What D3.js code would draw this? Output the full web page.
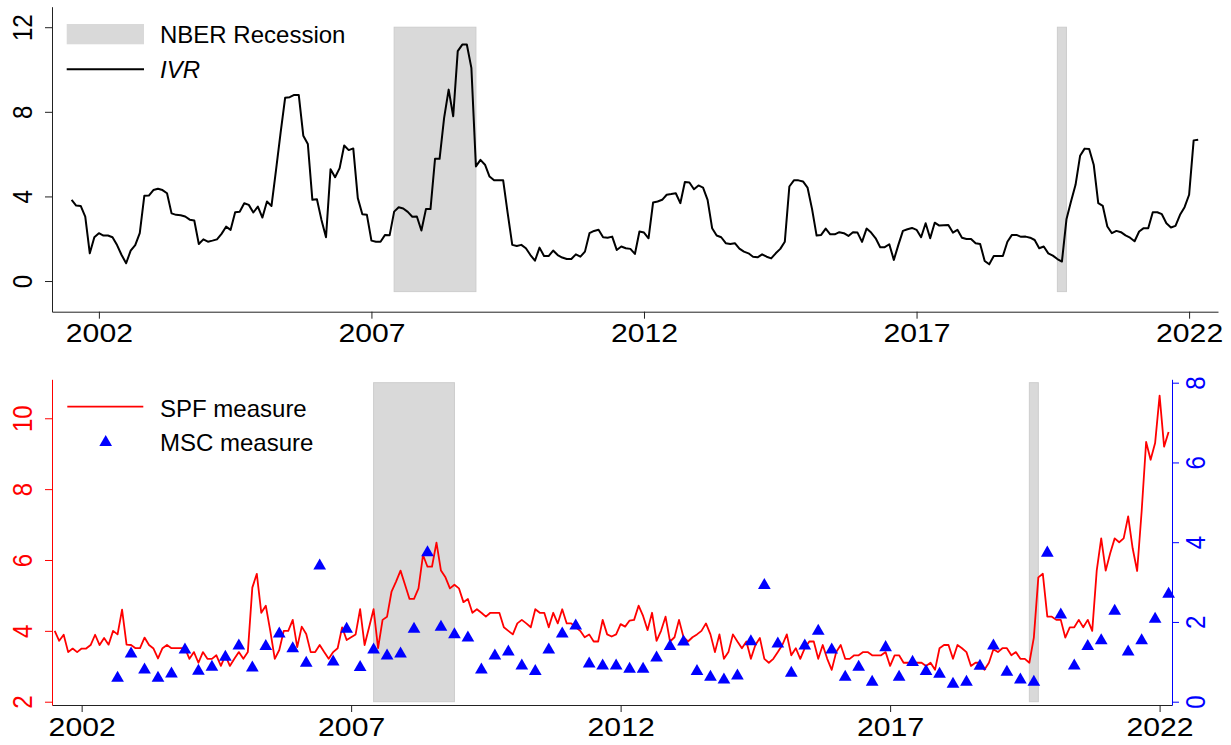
<!DOCTYPE html>
<html>
<head>
<meta charset="utf-8">
<script src="https://cdn.jsdelivr.net/npm/d3@7"></script>
<style>
body { margin: 0; background: #fff; }
svg { font-family: "Liberation Sans", Arial, Helvetica, sans-serif; }
</style>
</head>
<body>
<svg id="chart" width="1231" height="745"></svg>
<script>
// monthly series, Jan 2002 .. Sep 2022
var startYear = 2002;
var ivr = [3.84,3.57,3.55,3.05,1.31,2.07,2.26,2.15,2.15,2.07,
  1.70,1.23,0.84,1.44,1.70,2.26,4.03,4.04,4.30,4.36,
  4.30,4.15,3.20,3.13,3.11,3.05,2.90,2.86,1.75,1.97,
  1.86,1.91,1.97,2.23,2.57,2.42,3.25,3.28,3.68,3.60,
  3.24,3.52,3.00,3.76,3.55,5.26,7.00,8.66,8.69,8.80,
  8.80,6.87,6.48,3.84,3.87,2.89,2.07,5.29,4.91,5.34,
  6.41,6.19,6.27,3.92,3.16,3.13,1.91,1.86,1.86,2.18,
  2.16,3.28,3.49,3.43,3.27,3.04,3.05,2.39,3.40,3.40,
  5.78,5.78,7.71,9.05,7.79,10.87,11.18,11.18,10.08,5.42,
  5.73,5.50,4.94,4.76,4.76,4.76,3.20,1.71,1.66,1.71,
  1.55,1.23,0.96,1.58,1.18,1.18,1.44,1.23,1.11,1.04,
  1.04,1.26,1.15,1.39,2.26,2.37,2.42,2.07,2.05,2.10,
  1.47,1.63,1.55,1.52,1.28,2.34,2.29,2.02,3.71,3.76,
  3.84,4.08,4.11,4.15,3.68,4.68,4.66,4.34,4.52,4.42,
  3.84,2.50,2.15,2.07,1.79,1.75,1.79,1.53,1.39,1.31,
  1.15,1.12,1.26,1.15,1.07,1.31,1.52,1.86,4.47,4.76,
  4.76,4.71,4.42,3.40,2.15,2.18,2.48,2.21,2.21,2.31,
  2.26,2.13,2.31,2.29,1.85,2.48,2.29,2.02,1.60,1.60,
  1.74,1.00,1.71,2.37,2.45,2.51,2.42,2.07,2.73,2.02,
  2.76,2.62,2.64,2.65,2.29,2.42,2.05,1.99,1.99,1.79,
  1.75,0.95,0.79,1.18,1.18,1.18,1.86,2.18,2.18,2.09,
  2.10,2.05,1.94,1.55,1.63,1.31,1.20,1.04,0.92,2.92,
  3.76,4.55,5.92,6.26,6.24,5.50,3.68,3.55,2.58,2.26,
  2.37,2.31,2.16,2.05,1.88,2.34,2.50,2.50,3.25,3.25,
  3.16,2.73,2.53,2.61,3.13,3.49,4.08,6.65,6.68];

var spf = [4.00,3.72,3.89,3.40,3.50,3.40,3.50,3.50,3.60,3.89,
  3.60,3.80,3.61,4.00,3.90,4.60,3.61,3.60,3.51,3.51,
  3.81,3.60,3.50,3.22,3.51,3.60,3.51,3.51,3.51,3.51,
  3.21,3.40,3.10,3.40,3.21,3.21,3.31,3.01,3.31,3.01,
  3.21,3.40,3.21,3.40,5.22,5.61,4.51,4.71,4.00,3.21,
  3.46,4.00,4.00,4.31,3.54,4.12,3.91,3.40,3.40,3.60,
  3.40,3.21,3.40,3.51,4.10,3.74,3.82,3.90,4.61,3.60,
  4.10,4.61,3.51,4.31,4.40,5.11,5.39,5.70,5.30,4.90,
  4.90,5.20,6.14,5.81,5.81,6.49,5.70,5.51,5.20,5.30,
  5.20,4.81,4.90,4.51,4.61,4.51,4.40,4.51,4.51,4.51,
  4.10,4.00,3.90,4.21,4.31,4.21,4.10,4.61,4.51,4.51,
  4.10,4.51,4.21,4.61,4.21,4.21,4.10,4.00,3.82,3.90,
  3.70,3.70,4.31,3.90,3.84,3.90,4.19,4.12,4.29,4.31,
  4.71,4.42,4.02,4.51,3.72,4.00,4.40,3.70,3.82,4.31,
  3.82,3.70,3.82,3.90,4.00,4.21,3.90,3.40,3.90,3.21,
  3.40,3.90,3.70,3.51,3.70,3.21,3.60,3.80,3.21,3.10,
  3.21,3.40,3.60,3.90,3.31,3.51,3.21,3.51,3.70,3.70,
  3.21,3.60,3.21,2.90,3.40,3.60,3.21,3.21,3.31,3.31,
  3.40,3.40,3.31,3.31,3.31,3.40,3.01,3.31,3.31,3.10,
  3.10,3.10,3.10,3.10,3.01,3.10,2.90,3.51,3.60,3.60,
  3.21,3.60,3.51,3.40,3.01,3.10,3.10,2.90,3.10,3.48,
  3.40,3.51,3.51,3.31,3.40,3.21,3.21,3.10,3.81,5.51,
  5.61,4.40,4.40,4.31,4.31,3.81,4.10,4.10,4.31,4.10,
  4.31,4.00,5.70,6.61,5.70,6.19,6.61,6.50,6.61,7.23,
  6.33,5.69,7.37,9.33,8.83,9.30,10.64,9.20,9.61];

// quarterly, Mar 2003 .. Sep 2022
var mscStart = 2003 + 2 / 12;
var msc = [0.59,1.20,0.80,0.59,0.70,1.30,0.77,0.87,1.12,1.40,
  0.85,1.39,1.70,1.33,0.97,3.41,1.00,1.82,0.86,1.30,
  1.15,1.20,1.82,3.74,1.87,1.68,1.60,0.80,1.15,1.25,
  0.90,0.76,1.30,1.70,1.90,0.95,0.90,0.90,0.82,0.82,
  1.10,1.39,1.50,0.76,0.62,0.55,0.65,1.51,2.92,1.45,
  0.72,1.40,1.77,1.30,0.62,0.87,0.49,1.36,0.62,0.99,
  0.76,0.69,0.44,0.49,0.89,1.40,0.74,0.55,0.49,3.73,
  2.18,0.90,1.39,1.53,2.27,1.25,1.53,2.07,2.70];

// NBER recessions (Dec 2007 - Jun 2009, Feb 2020 - Apr 2020)
var recessions = [[2007 + 11 / 12, 2009 + 5 / 12], [2020 + 1 / 12, 2020 + 3 / 12]];
var tickYears = [2002, 2007, 2012, 2017, 2022];
var ivrTicks = [0, 4, 8, 12];
var spfTicks = [2, 4, 6, 8, 10];
var mscTicks = [0, 2, 4, 6, 8];

var svg = d3.select("#chart");
var legendFont = "24px";
var stretch = 1.16; // tick labels in the original are a bit wide

function monthT(d, i) { return startYear + i / 12; }

// x tick labels, widened a little
function yearLabels(g, offset) {
  g.selectAll(".tick text")
    .attr("y", offset)
    .attr("dy", 0)
    .attr("fill", "#000")
    .attr("transform", "scale(" + stretch + ",1)")
    .style("font-size", "26px");
}

// rotate the y tick labels so they read bottom to top
function verticalLabels(g, offset, colour) {
  g.selectAll(".tick text")
    .attr("transform", "rotate(-90) scale(1," + stretch + ")")
    .attr("x", 0)
    .attr("y", offset / stretch)
    .attr("dy", 0)
    .attr("text-anchor", "middle")
    .attr("fill", colour)
    .style("font-size", "24px");
}

// ---------- upper panel: IVR ----------
var xTop = d3.scaleLinear().domain([2001.64, 2023.03]).range([52, 1218]);
var yTop = d3.scaleLinear().domain([-1.45, 12.97]).range([311.7, 6.7]);

var upper = svg.append("g");

upper.selectAll(".rec")
  .data(recessions)
  .enter().append("rect")
    .attr("x", function(d) { return xTop(d[0]); })
    .attr("width", function(d) { return xTop(d[1]) - xTop(d[0]); })
    .attr("y", yTop(12))
    .attr("height", yTop(-0.5) - yTop(12))
    .attr("fill", "#d9d9d9")
    .attr("stroke", "#cdcdcd");

upper.append("path")
  .datum(ivr)
  .attr("fill", "none")
  .attr("stroke", "#000")
  .attr("stroke-width", 2)
  .attr("stroke-linejoin", "round")
  .attr("d", d3.line().x(function(d, i) { return xTop(monthT(d, i)); }).y(function(d) { return yTop(d); }));

var gx1 = upper.append("g")
  .attr("transform", "translate(0," + yTop.range()[0] + ")")
  .attr("color", "#222")
  .call(d3.axisBottom(xTop)
    .tickValues(tickYears.map(function(y) { return y + 0.5; }))
    .tickFormat(function(d) { return Math.floor(d); })
    .tickSize(7).tickSizeOuter(0));
yearLabels(gx1, 30);

var gy1 = upper.append("g")
  .attr("transform", "translate(52,0)")
  .attr("color", "#222")
  .call(d3.axisLeft(yTop).tickValues(ivrTicks).tickSize(7).tickSizeOuter(0));
verticalLabels(gy1, -20, "#000");

// legend
var leg1 = upper.append("g").style("font-size", legendFont);
leg1.append("rect").attr("x", 66.7).attr("y", 24).attr("width", 77.3).attr("height", 20.3).attr("fill", "#d9d9d9");
leg1.append("text").attr("x", 160).attr("y", 43.3).text("NBER Recession");
leg1.append("line").attr("x1", 66.7).attr("x2", 144).attr("y1", 69.3).attr("y2", 69.3).attr("stroke", "#000").attr("stroke-width", 2);
leg1.append("text").attr("x", 160).attr("y", 78).style("font-style", "italic").text("IVR");

// ---------- lower panel: SPF and MSC ----------
var xBot = d3.scaleLinear().domain([2001.95, 2022.73]).range([52, 1172]);
var yL = d3.scaleLinear().domain([1.907, 11.1]).range([705, 379.3]);
var yR = d3.scaleLinear().domain([-0.083, 8.085]).range([705, 379.3]);

var lower = svg.append("g");

lower.selectAll(".rec")
  .data(recessions)
  .enter().append("rect")
    .attr("x", function(d) { return xBot(d[0]); })
    .attr("width", function(d) { return xBot(d[1]) - xBot(d[0]); })
    .attr("y", yR(8))
    .attr("height", yR(0) - yR(8))
    .attr("fill", "#d9d9d9")
    .attr("stroke", "#cdcdcd");

lower.append("path")
  .datum(spf)
  .attr("fill", "none")
  .attr("stroke", "#ff0000")
  .attr("stroke-width", 1.8)
  .attr("stroke-linejoin", "round")
  .attr("d", d3.line().x(function(d, i) { return xBot(monthT(d, i)); }).y(function(d) { return yL(d); }));

var tri = d3.symbol().type(d3.symbolTriangle).size(70);
lower.selectAll(".msc")
  .data(msc)
  .enter().append("path")
    .attr("class", "msc")
    .attr("transform", function(d, i) { return "translate(" + xBot(mscStart + i / 4) + "," + yR(d) + ")"; })
    .attr("d", tri)
    .attr("fill", "#0000ff");

var gx2 = lower.append("g")
  .attr("transform", "translate(0," + yL.range()[0] + ")")
  .attr("color", "#222")
  .call(d3.axisBottom(xBot)
    .tickValues(tickYears.map(function(y) { return y + 0.5; }))
    .tickFormat(function(d) { return Math.floor(d); })
    .tickSize(7).tickSizeOuter(0));
yearLabels(gx2, 31.5);

var gy2 = lower.append("g")
  .attr("transform", "translate(52,0)")
  .attr("color", "#ff0000")
  .call(d3.axisLeft(yL).tickValues(spfTicks).tickSize(7).tickSizeOuter(0));
verticalLabels(gy2, -20, "#ff0000");

var gy3 = lower.append("g")
  .attr("transform", "translate(1172,0)")
  .attr("color", "#0000ff")
  .call(d3.axisRight(yR).tickValues(mscTicks).tickSize(7).tickSizeOuter(0));
verticalLabels(gy3, 33, "#0000ff");

svg.selectAll("g").style("font-family", null);

// legend
var leg2 = lower.append("g").style("font-size", legendFont);
leg2.append("line").attr("x1", 67.3).attr("x2", 143.3).attr("y1", 406.7).attr("y2", 406.7).attr("stroke", "#ff0000").attr("stroke-width", 1.8);
leg2.append("text").attr("x", 160).attr("y", 416.7).text("SPF measure");
leg2.append("path").attr("transform", "translate(105.7,442.3)").attr("d", tri).attr("fill", "#0000ff");
leg2.append("text").attr("x", 160).attr("y", 450.7).text("MSC measure");
</script>
</body>
</html>
